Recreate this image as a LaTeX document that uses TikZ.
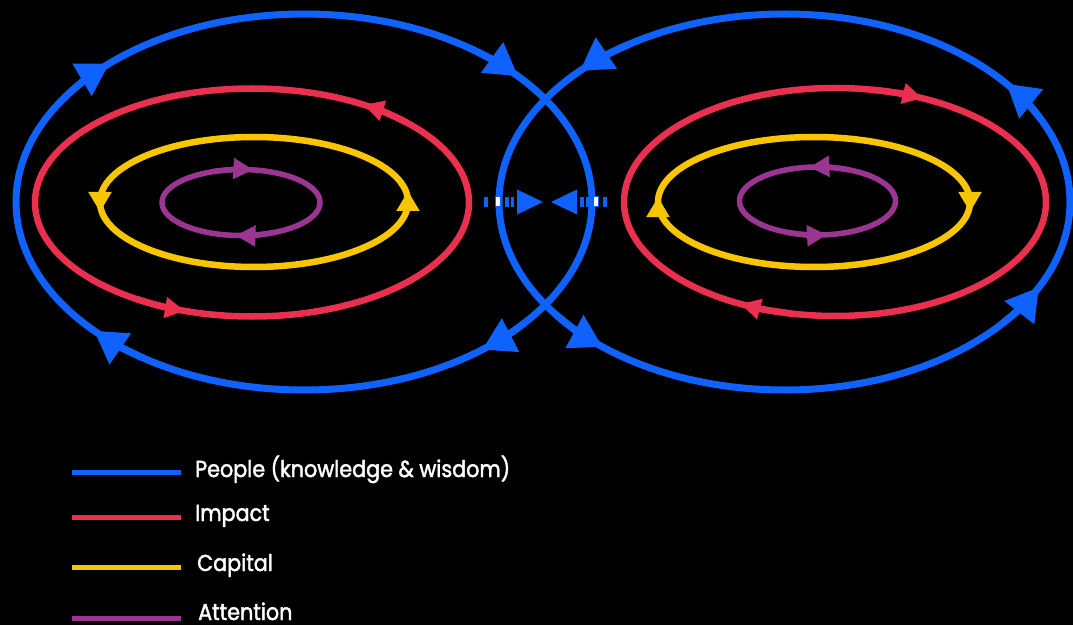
\documentclass[tikz,border=0pt]{standalone}
\usepackage{fontspec}
\usepackage{graphicx}
\setmainfont{Poppins}
\newfontfamily\keyfont{Poppins}[FakeBold=2]
\usetikzlibrary{arrows.meta}

\definecolor{peopleblue}{HTML}{0F62FE}
\definecolor{impactred}{HTML}{E9304E}
\definecolor{capitalyellow}{HTML}{F7C600}
\definecolor{attentionpurple}{HTML}{9B3592}

\newcommand{\keylabel}[1]{\scalebox{0.9}[1]{#1}}

\begin{document}
\begin{tikzpicture}[x=1pt,y=1pt,
  people/.style={peopleblue,line width=7pt},
  impact/.style={impactred,line width=6.5pt},
  capital/.style={capitalyellow,line width=6.5pt},
  attention/.style={attentionpurple,line width=5.5pt},
  keytext/.style={white,anchor=base west,inner sep=0pt,font=\keyfont\fontsize{23}{27}\selectfont}]
\fill[black] (0,0) rectangle (1073,625);
\useasboundingbox (0,0) rectangle (1073,625);
% centres of the loops
\coordinate (peopleL) at (304,423);
\coordinate (impactL) at (252,422.5);
\coordinate (capitalL) at (254,423);
\coordinate (attentionL) at (241,422.5);
\coordinate (peopleR) at (784.5,423);
\coordinate (impactR) at (835,423);
\coordinate (capitalR) at (814,423);
\coordinate (attentionR) at (817.5,424);
% left loops
\draw[people] (peopleL) ellipse [x radius=288pt, y radius=188pt];
\foreach \s/\e in {145/132.5,55/42,-40/-51.8,236/223.2}
  \draw[people,-{Triangle[length=32pt,width=36pt]}] ([shift={(\s:288pt and 188pt)}]peopleL)
    arc[start angle=\s, end angle=\e, x radius=288pt, y radius=188pt];
\draw[impact] (impactL) ellipse [x radius=217pt, y radius=114pt];
\foreach \s/\e in {45/59,238/252}
  \draw[impact,-{Triangle[length=20pt,width=20pt]}] ([shift={(\s:217pt and 114pt)}]impactL)
    arc[start angle=\s, end angle=\e, x radius=217pt, y radius=114pt];
\draw[capital] (capitalL) ellipse [x radius=154pt, y radius=65pt];
\draw[capital,-{Triangle[length=20pt,width=22pt]}] ([shift={(-154pt,10pt)}]capitalL) -- ([shift={(-154pt,-10pt)}]capitalL);
\draw[capital,-{Triangle[length=20pt,width=22pt]}] ([shift={(154pt,-9pt)}]capitalL) -- ([shift={(154pt,11pt)}]capitalL);
\draw[attention] (attentionL) ellipse [x radius=79pt, y radius=33pt];
\foreach \s/\e in {110/81,295/266}
  \draw[attention,-{Triangle[length=20pt,width=20pt]}] ([shift={(\s:79pt and 33pt)}]attentionL)
    arc[start angle=\s, end angle=\e, x radius=79pt, y radius=33pt];
% right loops
\draw[people] (peopleR) ellipse [x radius=285.5pt, y radius=188pt];
\foreach \s/\e in {123/135.8,26/39,-40/-27,217/230.4}
  \draw[people,-{Triangle[length=32pt,width=36pt]}] ([shift={(\s:285.5pt and 188pt)}]peopleR)
    arc[start angle=\s, end angle=\e, x radius=285.5pt, y radius=188pt];
\draw[impact] (impactR) ellipse [x radius=211pt, y radius=114pt];
\foreach \s/\e in {80/65.5,-102/-116.6}
  \draw[impact,-{Triangle[length=20pt,width=20pt]}] ([shift={(\s:211pt and 114pt)}]impactR)
    arc[start angle=\s, end angle=\e, x radius=211pt, y radius=114pt];
\draw[capital] (capitalR) ellipse [x radius=156pt, y radius=65pt];
\draw[capital,-{Triangle[length=20pt,width=22pt]}] ([shift={(-156pt,-13pt)}]capitalR) -- ([shift={(-156pt,5pt)}]capitalR);
\draw[capital,-{Triangle[length=20pt,width=22pt]}] ([shift={(156pt,10pt)}]capitalR) -- ([shift={(156pt,-10pt)}]capitalR);
\draw[attention] (attentionR) ellipse [x radius=78pt, y radius=34pt];
\foreach \s/\e in {67/96,-112/-83}
  \draw[attention,-{Triangle[length=20pt,width=20pt]}] ([shift={(\s:78pt and 34pt)}]attentionR)
    arc[start angle=\s, end angle=\e, x radius=78pt, y radius=34pt];
% meeting point in the middle
\coordinate (meetL) at (543,423);
\coordinate (meetR) at (551,423);
\foreach \a/\b in {484/487.5,505/508.5,510.5/514,580/583.5,585.5/589,603/607}
  \fill[peopleblue] (\a,418) rectangle (\b,428);
\foreach \a/\b in {495/500,593/598}
  \draw[peopleblue,fill=white,line width=1pt] (\a,418) rectangle (\b,428);
\fill[peopleblue] (meetL) -- ++(-26,12.5) -- ++(0,-25) -- cycle;
\fill[peopleblue] (meetR) -- ++(26,12.5) -- ++(0,-25) -- cycle;
% key
\coordinate (keyA) at (72,153);
\coordinate (keyB) at (72,108);
\coordinate (keyC) at (72,58);
\coordinate (keyD) at (72,7);
\draw[peopleblue,line width=5pt] (keyA) -- ++(109,0);
\draw[impactred,line width=5pt] (keyB) -- ++(109,0);
\draw[capitalyellow,line width=5pt] (keyC) -- ++(109,0);
\draw[attentionpurple,line width=5pt] (keyD) -- ++(109,0);
\node[keytext] (peopletext) at (195,148) {\keylabel{People (knowledge \& wisdom)}};
\node[keytext] (impacttext) at (195,104) {\keylabel{Impact}};
\node[keytext] (capitaltext) at (197,54) {\keylabel{Capital}};
\node[keytext] (attentiontext) at (198,5) {\keylabel{Attention}};
\end{tikzpicture}
\end{document}
